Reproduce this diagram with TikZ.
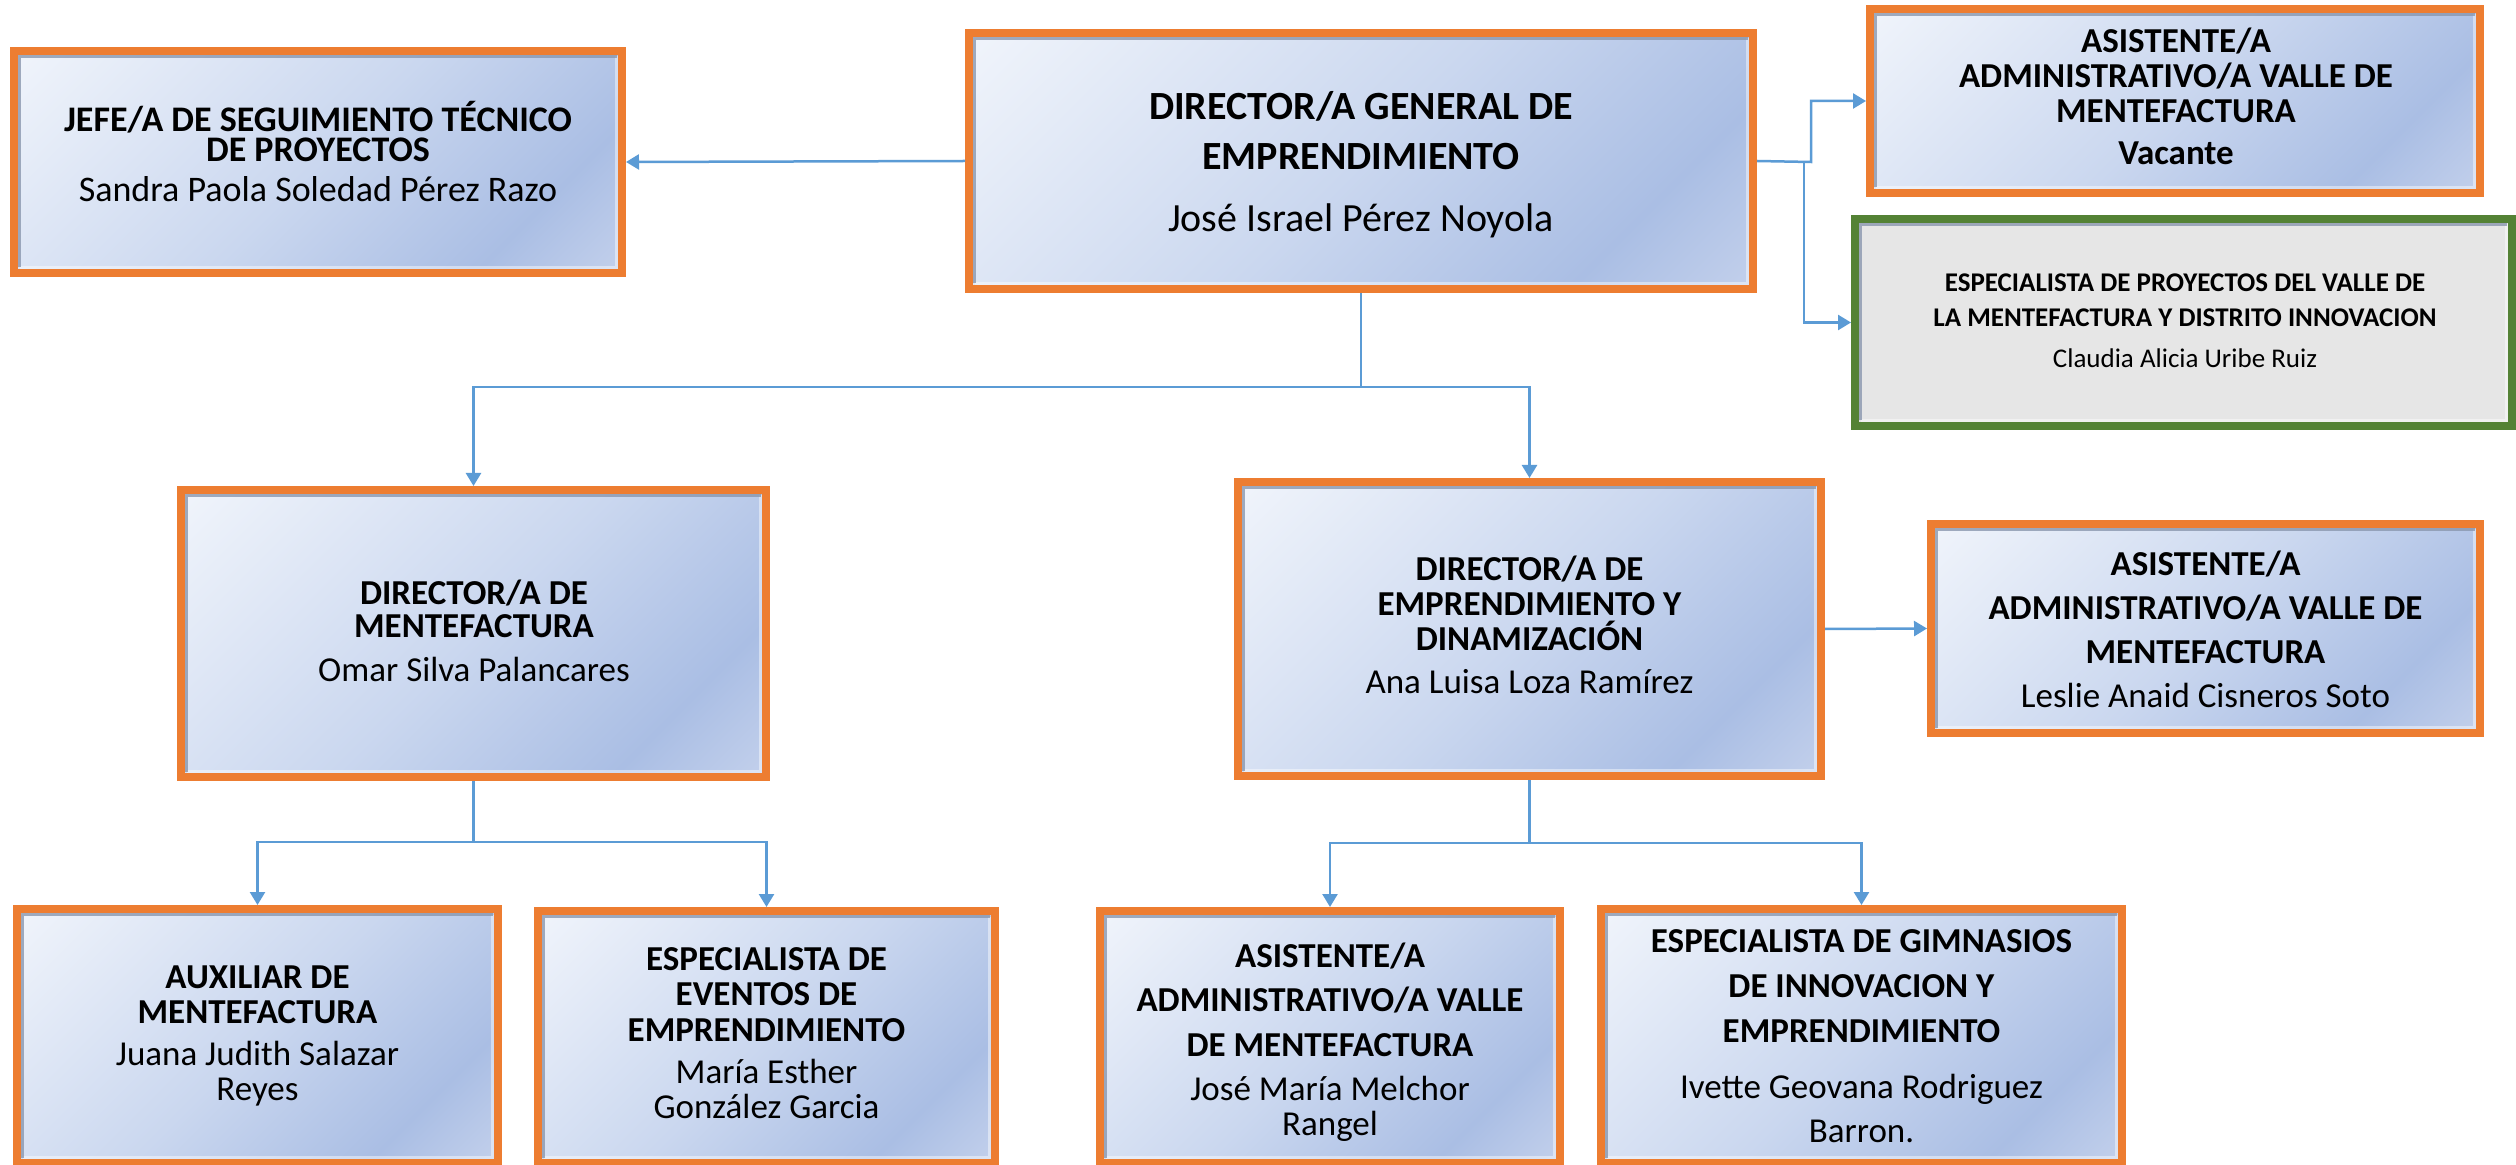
\documentclass[tikz,border=0pt]{standalone}
\usepackage{fontspec}
\setmainfont{Carlito}
\usetikzlibrary{arrows.meta}
\definecolor{orangeb}{HTML}{ED7D31}
\definecolor{greenb}{HTML}{548235}
\definecolor{connb}{HTML}{5B9BD5}
\definecolor{greyfill}{HTML}{E6E6E6}
\definecolor{bl0}{HTML}{F0F4FB}
\definecolor{bl1}{HTML}{CAD7EF}
\definecolor{bl2}{HTML}{AABEE4}
\definecolor{bl3}{HTML}{C4D1EC}
\definecolor{shd}{HTML}{8A97AE}
\pgfdeclarehorizontalshading{officeblue}{100bp}{color(0bp)=(bl0); color(15bp)=(bl0); color(50bp)=(bl1); color(73bp)=(bl2); color(86bp)=(bl3); color(100bp)=(bl3)}
\newcommand\bsz[2]{\fontsize{#1}{#2}\selectfont\lineskiplimit=-50pt\lineskip=0pt}
\tikzset{
  innershadow/.style={path picture={
    \draw[white,opacity=0.45,line width=1.5pt]
      ([xshift=2.75pt,yshift=2.75pt]path picture bounding box.south west) -|
      ([xshift=-2.75pt,yshift=-2.75pt]path picture bounding box.north east);
    \draw[shd,opacity=0.8,line width=1.5pt]
      ([xshift=2.75pt,yshift=2.75pt]path picture bounding box.south west) |-
      ([xshift=-2.75pt,yshift=-2.75pt]path picture bounding box.north east);
  }},
  orgbox/.style={rectangle, inner sep=0pt, line width=4pt, draw=orangeb,
    shade, shading=officeblue, shading angle=-45, innershadow},
  grnbox/.style={rectangle, inner sep=0pt, line width=4pt, draw=greenb,
    fill=greyfill, innershadow},
  txt/.style={align=center, inner sep=0pt, anchor=base, text=black},
  conn/.style={draw=connb, line width=1.25pt, -{Triangle[length=6.5pt,width=7.5pt]}},
  connl/.style={draw=connb, line width=1.25pt}
}
\begin{document}
\begin{tikzpicture}[x=0.5pt,y=-0.5pt]
\useasboundingbox (0,0) rectangle (2516,1165);
\fill[white] (0,0) rectangle (2516,1165);

% boxes
\node[orgbox, minimum width=304pt, minimum height=111pt] (jefe) at (318,162) {};
\node[orgbox, minimum width=392pt, minimum height=128pt] (dg) at (1361,161) {};
\node[orgbox, minimum width=305pt, minimum height=92pt] (asis) at (2175,101) {};
\node[grnbox, minimum width=328.5pt, minimum height=103.5pt] (esp) at (2183.5,322.5) {};
\node[orgbox, minimum width=292.5pt, minimum height=143.5pt] (ment) at (473.5,633.5) {};
\node[orgbox, minimum width=291.5pt, minimum height=147pt] (de) at (1529.5,629) {};
\node[orgbox, minimum width=274.5pt, minimum height=104.5pt] (les) at (2205.5,628.5) {};
\node[orgbox, minimum width=240.5pt, minimum height=127pt] (aux) at (257.5,1036) {};
\node[orgbox, minimum width=228.5pt, minimum height=126pt] (eve) at (766.5,1037) {};
\node[orgbox, minimum width=230pt, minimum height=126pt] (jose) at (1330,1037) {};
\node[orgbox, minimum width=260.5pt, minimum height=127pt] (gim) at (1861.5,1036) {};

% texts (anchored at the baseline of their last line)
\node[txt, font=\bsz{18}{15}] (jefe-t) at (318,202)
  {\textbf{JEFE/A DE SEGUIMIENTO TÉCNICO}\\\textbf{DE PROYECTOS}\\[5pt]Sandra Paola Soledad Pérez Razo};
\node[txt, font=\bsz{20}{25}] (dg-t) at (1361,232)
  {\textbf{DIRECTOR/A GENERAL DE}\\\textbf{EMPRENDIMIENTO}\\[6pt]José Israel Pérez Noyola};
\node[txt, font=\bsz{17.5}{17.5}] (asis-t) at (2176,165)
  {\textbf{ASISTENTE/A}\\\textbf{ADMINISTRATIVO/A VALLE DE}\\\textbf{MENTEFACTURA}\\[3.5pt]\textbf{Vacante}};
\node[txt, font=\bsz{13.5}{17.5}] (esp-t) at (2185,368)
  {\textbf{ESPECIALISTA DE PROYECTOS DEL VALLE DE}\\\textbf{LA MENTEFACTURA Y DISTRITO INNOVACION}\\[3pt]Claudia Alicia Uribe Ruiz};
\node[txt, font=\bsz{17.5}{17}] (ment-t) at (474,681)
  {\textbf{DIRECTOR/A DE}\\\textbf{MENTEFACTURA}\\[4.5pt]Omar Silva Palancares};
\node[txt, font=\bsz{17.5}{17.5}] (de-t) at (1529.5,693)
  {\textbf{DIRECTOR/A DE}\\\textbf{EMPRENDIMIENTO Y}\\\textbf{DINAMIZACIÓN}\\[4pt]Ana Luisa Loza Ramírez};
\node[txt, font=\bsz{17.5}{22}] (les-t) at (2205.5,707)
  {\textbf{ASISTENTE/A}\\\textbf{ADMINISTRATIVO/A VALLE DE}\\\textbf{MENTEFACTURA}\\Leslie Anaid Cisneros Soto};
\node[txt, font=\bsz{17.5}{17.5}] (aux-t) at (257.5,1100)
  {\textbf{AUXILIAR DE}\\\textbf{MENTEFACTURA}\\[3.5pt]Juana Judith Salazar\\Reyes};
\node[txt, font=\bsz{17.5}{17.75}] (eve-t) at (766.5,1118)
  {\textbf{ESPECIALISTA DE}\\\textbf{EVENTOS DE}\\\textbf{EMPRENDIMIENTO}\\[3.25pt]María Esther\\[-0.25pt]González Garcia};
\node[txt, font=\bsz{17.5}{22.25}] (jose-t) at (1330,1135)
  {\textbf{ASISTENTE/A}\\\textbf{ADMINISTRATIVO/A VALLE}\\\textbf{DE MENTEFACTURA}\\[-0.25pt]José María Melchor\\[-4.75pt]Rangel};
\node[txt, font=\bsz{17.5}{22.5}] (gim-t) at (1861.5,1142)
  {\textbf{ESPECIALISTA DE GIMNASIOS}\\\textbf{DE INNOVACION Y}\\\textbf{EMPRENDIMIENTO}\\[5.5pt]Ivette Geovana Rodriguez\\[-0.5pt]Barron.};

% junction coordinates
\coordinate (r1) at (1811,162);
\coordinate (r2) at (1804,162);
\coordinate (g1) at (1361,387);
\coordinate (m1) at (473.5,842);
\coordinate (d1) at (1529.5,843);

% connectors
\draw[conn] (dg.west) -- (jefe.east);
\draw[conn] (dg.east) -- (r1) |- (asis.west);
\draw[conn] (r2) |- (esp.west);
\draw[connl] (dg.south) -- (g1);
\draw[conn] (g1) -| (ment.north);
\draw[conn] (g1) -| (de.north);
\draw[conn] (de.east) -- (les.west);
\draw[connl] (ment.south) -- (m1);
\draw[conn] (m1) -| (aux.north);
\draw[conn] (m1) -| (eve.north);
\draw[connl] (de.south) -- (d1);
\draw[conn] (d1) -| (jose.north);
\draw[conn] (d1) -| (gim.north);
\end{tikzpicture}
\end{document}
